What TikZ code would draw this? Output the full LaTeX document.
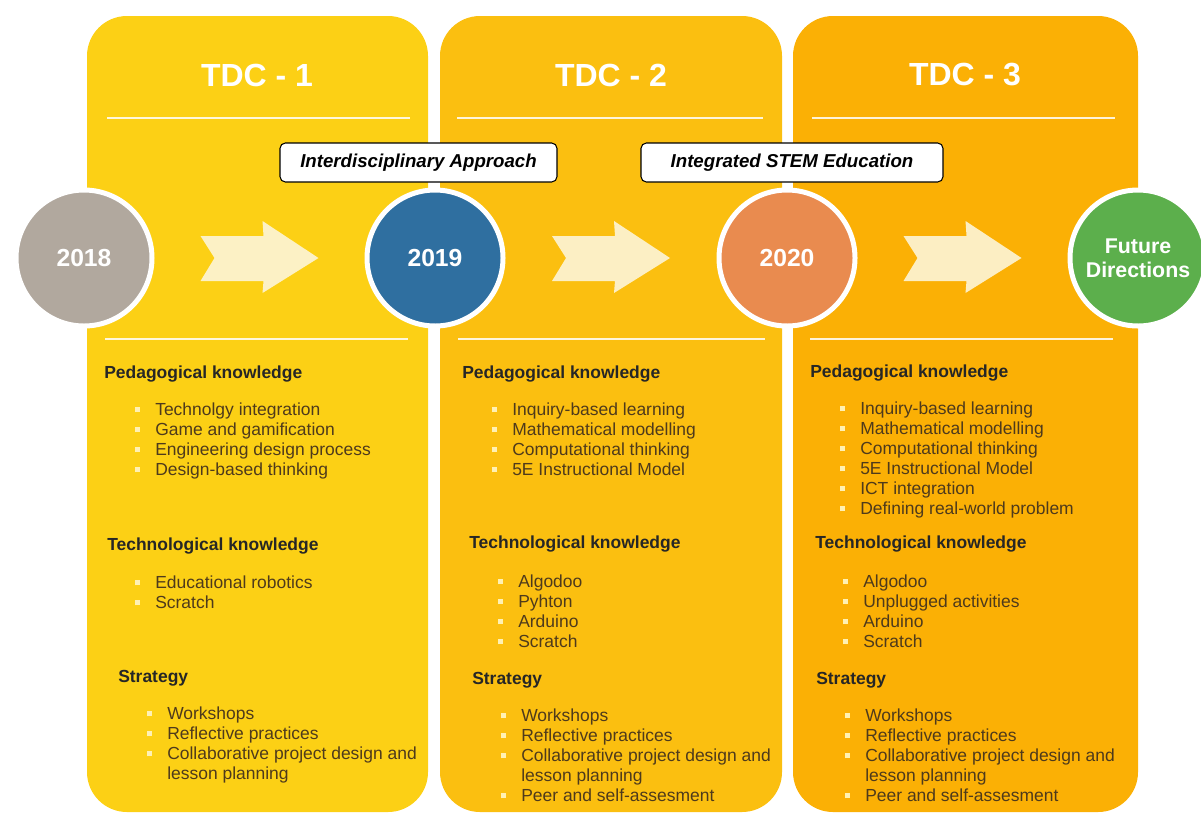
\documentclass[tikz,border=0pt]{standalone}
\usepackage{fontspec}
\setmainfont{Liberation Sans}
\usetikzlibrary{calc}
\definecolor{tdcone}{RGB}{252,208,21}
\definecolor{tdctwo}{RGB}{251,191,16}
\definecolor{tdcthree}{RGB}{251,176,5}
\definecolor{yeargray}{RGB}{177,168,158}
\definecolor{yearblue}{RGB}{47,111,160}
\definecolor{yearorange}{RGB}{233,139,79}
\definecolor{futuregreen}{RGB}{92,175,76}
\definecolor{arrowcream}{RGB}{253,244,212}
\definecolor{itemtext}{RGB}{78,58,28}
\definecolor{bulletc}{RGB}{255,241,180}
% bullet and indent for the item lists
\newcommand{\blt}{\strut\makebox[15.75pt][l]{\hspace{0.4pt}\textcolor{bulletc}{\rule[2.6pt]{3.8pt}{3.8pt}}}}
\newcommand{\nob}{\hspace*{15.75pt}}
% cream block arrow half way between two circles
\newcommand{\blockarrow}[2]{%
  \fill[arrowcream,opacity=0.92,shift={($(#1)!0.5!(#2)$)}]
    (-59,-22) -- (4,-22) -- (3,-37) -- (59,0) -- (3,35) -- (4,23) -- (-59,23) -- (-45,0) -- cycle;}
\begin{document}
\begin{tikzpicture}[x=0.75pt,y=-0.75pt,
  panel/.style={rounded corners=30pt},
  sep line/.style={draw=white,opacity=0.85,line width=2.2pt},
  title node/.style={text=white,font=\fontsize{24}{26}\selectfont\bfseries},
  year node/.style={circle,draw=white,line width=3.75pt,minimum size=102pt,inner sep=0pt,
    text=white,align=center,font=\fontsize{18.5}{20}\selectfont\bfseries},
  tag node/.style={draw=black,line width=0.8pt,fill=white,rounded corners=4pt,
    minimum height=29.25pt,font=\fontsize{14}{16}\selectfont\bfseries\itshape},
  head node/.style={anchor=base west,inner sep=0pt,text=black!85,
    font=\fontsize{13.1}{15}\selectfont\bfseries},
  list node/.style={anchor=north west,inner sep=0pt,align=left,text=itemtext,
    font=\fontsize{13.1}{15}\selectfont}]
  \useasboundingbox (0,0) rectangle (1201,814);

  % the three TDC columns
  \fill[panel,tdcone] (87,16) rectangle (428,812);
  \fill[panel,tdctwo] (440,16) rectangle (782,812);
  \fill[panel,tdcthree] (793,16) rectangle (1138,812);
  \draw[sep line] (107,118) -- (410,118);
  \draw[sep line] (457,118) -- (763,118);
  \draw[sep line] (812,118) -- (1115,118);
  \draw[sep line] (105,339) -- (408,339);
  \draw[sep line] (458,339) -- (765,339);
  \draw[sep line] (810,339) -- (1113,339);

  \node[title node] (tdc1) at (257,75) {TDC - 1};
  \node[title node] (tdc2) at (611,75) {TDC - 2};
  \node[title node] (tdc3) at (965,75) {TDC - 3};

  % timeline
  \node[year node,fill=yeargray] (y2018) at (84,258) {2018};
  \node[year node,fill=yearblue] (y2019) at (435,258) {2019};
  \node[year node,fill=yearorange] (y2020) at (787,258) {2020};
  \node[year node,fill=futuregreen,font=\fontsize{16}{18}\selectfont\bfseries] (future) at (1138,258) {Future\\Directions};
  \blockarrow{y2018}{y2019}
  \blockarrow{y2019}{y2020}
  \blockarrow{y2020}{future}

  \node[tag node,minimum width=207.75pt] (interdis) at (418.5,162.5) {Interdisciplinary Approach};
  \node[tag node,minimum width=226.5pt] (stem) at (792,162.5) {Integrated STEM Education};

  % TDC - 1
  \node[head node] (ped1h) at (104,378) {Pedagogical knowledge};
  \node[list node] (ped1) at (134,401.5) {\blt Technolgy integration\\\blt Game and gamification\\\blt Engineering design process\\\blt Design-based thinking};
  \node[head node] (tech1h) at (107,550) {Technological knowledge};
  \node[list node] (tech1) at (134,574.5) {\blt Educational robotics\\\blt Scratch};
  \node[head node] (strat1h) at (118,682) {Strategy};
  \node[list node] (strat1) at (146,705.5) {\blt Workshops\\\blt Reflective practices\\\blt Collaborative project design and\\\nob lesson planning};

  % TDC - 2
  \node[head node] (ped2h) at (462,378) {Pedagogical knowledge};
  \node[list node] (ped2) at (491,401.5) {\blt Inquiry-based learning\\\blt Mathematical modelling\\\blt Computational thinking\\\blt 5E Instructional Model};
  \node[head node] (tech2h) at (469,548) {Technological knowledge};
  \node[list node] (tech2) at (497,573.5) {\blt Algodoo\\\blt Pyhton\\\blt Arduino\\\blt Scratch};
  \node[head node] (strat2h) at (472,684) {Strategy};
  \node[list node] (strat2) at (500,707.5) {\blt Workshops\\\blt Reflective practices\\\blt Collaborative project design and\\\nob lesson planning\\\blt Peer and self-assesment};

  % TDC - 3
  \node[head node] (ped3h) at (810,377) {Pedagogical knowledge};
  \node[list node] (ped3) at (839,400.5) {\blt Inquiry-based learning\\\blt Mathematical modelling\\\blt Computational thinking\\\blt 5E Instructional Model\\\blt ICT integration\\\blt Defining real-world problem};
  \node[head node] (tech3h) at (815,548) {Technological knowledge};
  \node[list node] (tech3) at (842,573.5) {\blt Algodoo\\\blt Unplugged activities\\\blt Arduino\\\blt Scratch};
  \node[head node] (strat3h) at (816,684) {Strategy};
  \node[list node] (strat3) at (844,707.5) {\blt Workshops\\\blt Reflective practices\\\blt Collaborative project design and\\\nob lesson planning\\\blt Peer and self-assesment};
\end{tikzpicture}
\end{document}
